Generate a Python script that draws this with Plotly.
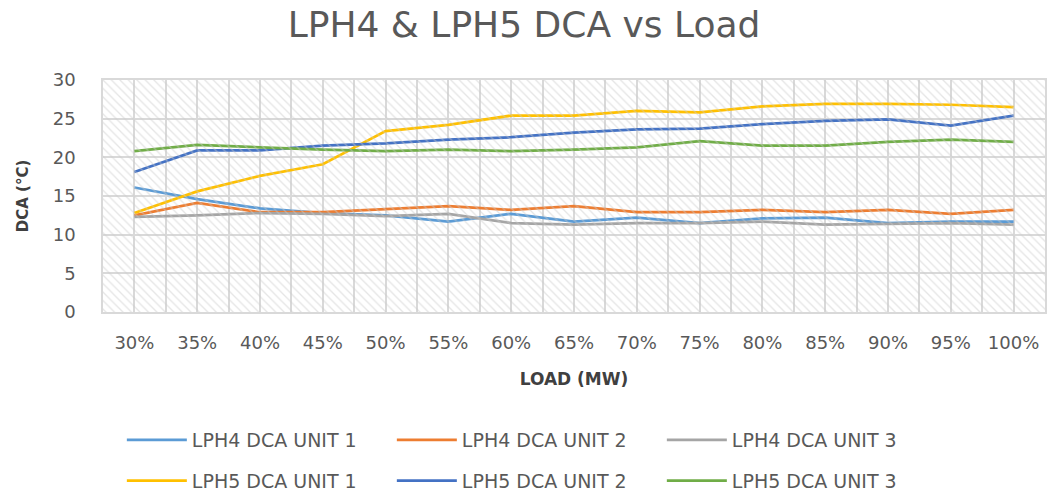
import plotly.graph_objects as go

loads = ["30%", "35%", "40%", "45%", "50%", "55%", "60%", "65%",
         "70%", "75%", "80%", "85%", "90%", "95%", "100%"]

lph4_unit1 = [16.1, 14.6, 13.4, 12.8, 12.5, 11.7, 12.7, 11.7, 12.2, 11.5, 12.1, 12.2, 11.5, 11.7, 11.7]
lph4_unit2 = [12.5, 14.1, 12.9, 12.9, 13.3, 13.7, 13.2, 13.7, 12.9, 12.9, 13.2, 12.9, 13.2, 12.7, 13.2]
lph4_unit3 = [12.3, 12.5, 12.8, 12.7, 12.4, 12.7, 11.5, 11.3, 11.5, 11.5, 11.7, 11.3, 11.4, 11.5, 11.3]
lph5_unit1 = [12.8, 15.6, 17.6, 19.1, 23.4, 24.2, 25.4, 25.4, 26.0, 25.8, 26.6, 26.9, 26.9, 26.8, 26.5]
lph5_unit2 = [18.1, 20.9, 20.9, 21.5, 21.8, 22.3, 22.6, 23.2, 23.6, 23.7, 24.3, 24.7, 24.9, 24.1, 25.4]
lph5_unit3 = [20.8, 21.6, 21.3, 21.0, 20.8, 21.0, 20.8, 21.0, 21.3, 22.1, 21.5, 21.5, 22.0, 22.3, 22.0]

series = [
    ("LPH4 DCA UNIT 1", lph4_unit1, "#5B9BD5", "legend"),
    ("LPH4 DCA UNIT 2", lph4_unit2, "#ED7D31", "legend"),
    ("LPH4 DCA UNIT 3", lph4_unit3, "#A5A5A5", "legend"),
    ("LPH5 DCA UNIT 1", lph5_unit1, "#FFC000", "legend2"),
    ("LPH5 DCA UNIT 2", lph5_unit2, "#4472C4", "legend2"),
    ("LPH5 DCA UNIT 3", lph5_unit3, "#70AD47", "legend2"),
]

y_ticks = [0, 5, 10, 15, 20, 25, 30]
Y_MAX = 30

xs = list(range(len(loads)))

fig = go.Figure()

# hatched plot-area background
fig.add_trace(go.Bar(
    x=[0.5], y=[Y_MAX], width=[1], xaxis="x2", yaxis="y",
    marker=dict(color="rgba(0,0,0,0)", line=dict(width=0),
                pattern=dict(shape="\\", fgcolor="#cccccc", bgcolor="rgba(0,0,0,0)",
                             size=6, solidity=0.22)),
    showlegend=False, hoverinfo="skip",
))

for name, vals, color, leg in series:
    fig.add_trace(go.Scatter(
        x=xs, y=vals, name=name, mode="lines",
        line=dict(color=color, width=2.75),
        legend=leg,
    ))

font_family = "DejaVu Sans"
tick_color = "#595959"

legend_common = dict(
    orientation="h", xanchor="left", yanchor="middle",
    entrywidth=195, entrywidthmode="pixels", itemwidth=60,
    font=dict(family=font_family, size=19, color="#595959"),
    bgcolor="rgba(0,0,0,0)",
)

fig.update_layout(
    width=1048, height=495,
    margin=dict(l=103, r=3, t=80, b=183, autoexpand=False),
    paper_bgcolor="white", plot_bgcolor="white",
    title=dict(text="LPH4 & LPH5 DCA vs Load", x=0.5, xref="container", xanchor="center",
               y=0.95, yanchor="middle",
               font=dict(family=font_family, size=36, color="#595959")),
    xaxis=dict(
        range=[-0.5, len(loads) - 0.5],
        tickmode="array", tickvals=xs, ticktext=loads,
        showgrid=True, gridcolor="#d9d9d9", gridwidth=1.5,
        minor=dict(dtick=0.5, tick0=-0.5, showgrid=True, gridcolor="#d9d9d9", gridwidth=1.5),
        showline=True, linecolor="#d9d9d9", linewidth=1.5, mirror=True,
        ticks="", zeroline=False,
        ticklabelstandoff=14,
        tickfont=dict(family=font_family, size=18, color=tick_color),
        title=dict(text="<b>LOAD (MW)</b>", standoff=21,
                   font=dict(family=font_family, size=17, color="#404040")),
    ),
    xaxis2=dict(range=[0, 1], overlaying="x", visible=False),
    yaxis=dict(
        range=[0, Y_MAX], tickmode="array", tickvals=y_ticks,
        showgrid=True, gridcolor="#d9d9d9", gridwidth=1.5,
        showline=True, linecolor="#d9d9d9", linewidth=1.5, mirror=True,
        ticks="", zeroline=False,
        ticklabelstandoff=22,
        tickfont=dict(family=font_family, size=18, color=tick_color),
        title=dict(text="<b>DCA (°C)</b>", standoff=20,
                   font=dict(family=font_family, size=15, color="#404040")),
    ),
    bargap=0,
    legend=dict(x=0.02, y=-0.552, **legend_common),
    legend2=dict(x=0.02, y=-0.728, **legend_common),
)

fig.write_html("out.html", config={"displayModeBar": False},
               post_script="document.body.style.margin='0';")
